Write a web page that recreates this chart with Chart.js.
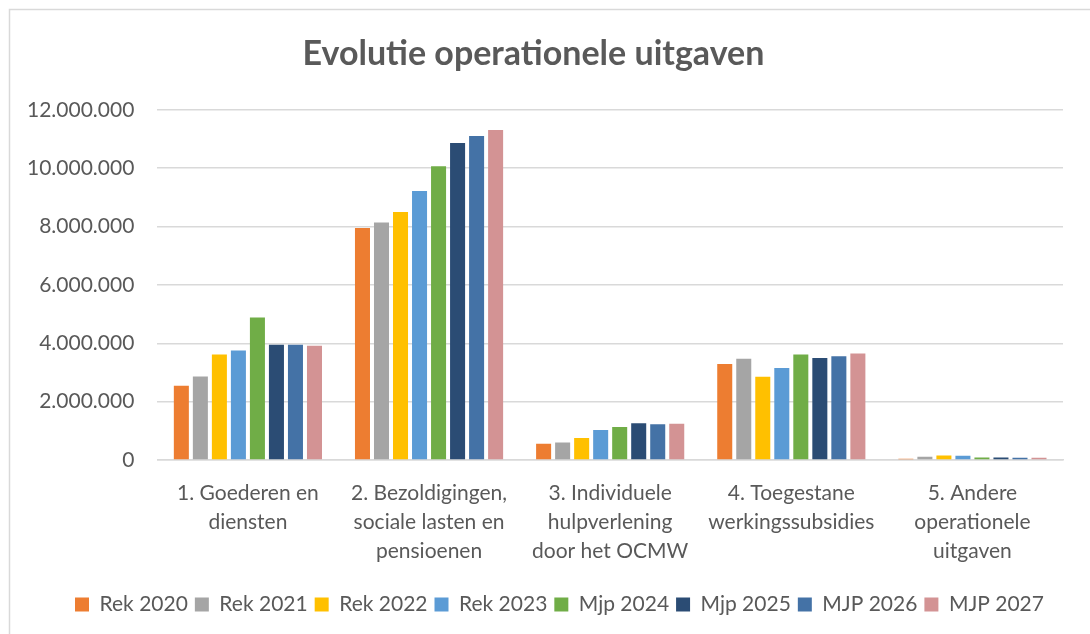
<!DOCTYPE html>
<html>
<head>
<meta charset="utf-8">
<script src="https://cdn.jsdelivr.net/npm/chart.js@4"></script>
<style>
  html, body { margin: 0; padding: 0; background: #fff; }
  #wrap { width: 1090px; height: 634px; position: relative; }
</style>
</head>
<body>
<div id="wrap"><canvas id="uitgaven"></canvas></div>
<script>
const categories = [
    ['1. Goederen en', 'diensten'],
    ['2. Bezoldigingen,', 'sociale lasten en', 'pensioenen'],
    ['3. Individuele', 'hulpverlening', 'door het OCMW'],
    ['4. Toegestane', 'werkingssubsidies'],
    ['5. Andere', 'operationele', 'uitgaven']
];

const seriesNames = ['Rek 2020', 'Rek 2021', 'Rek 2022', 'Rek 2023', 'Mjp 2024', 'Mjp 2025', 'MJP 2026', 'MJP 2027'];
const seriesColors = ['#ED7D31', '#A5A5A5', '#FFC000', '#5B9BD5', '#70AD47', '#2B4C74', '#4472A6', '#D39394'];

const rek2020 = [2550000, 7950000, 560000, 3290000, 45000];
const rek2021 = [2860000, 8140000, 600000, 3470000, 110000];
const rek2022 = [3620000, 8500000, 760000, 2850000, 160000];
const rek2023 = [3750000, 9220000, 1030000, 3150000, 150000];
const mjp2024 = [4880000, 10070000, 1130000, 3620000, 90000];
const mjp2025 = [3950000, 10860000, 1260000, 3500000, 90000];
const mjp2026 = [3950000, 11100000, 1230000, 3560000, 80000];
const mjp2027 = [3920000, 11310000, 1240000, 3650000, 80000];

const allSeries = [rek2020, rek2021, rek2022, rek2023, mjp2024, mjp2025, mjp2026, mjp2027];

const yTicks = [0, 2000000, 4000000, 6000000, 8000000, 10000000, 12000000];

function fmt(v) {
    return v.toString().replace(/\B(?=(\d{3})+(?!\d))/g, '.');
}

// light frame like the Excel chart border
const framePlugin = {
    id: 'frame',
    beforeDraw(chart) {
        const ctx = chart.ctx;
        ctx.save();
        ctx.strokeStyle = '#D9D9D9';
        ctx.lineWidth = 1.5;
        ctx.beginPath();
        ctx.moveTo(9.5, chart.height);
        ctx.lineTo(9.5, 9.5);
        ctx.lineTo(chart.width, 9.5);
        ctx.stroke();
        ctx.restore();
    }
};

// nudge the legend a bit right/down, like in the original
const legendShift = {
    id: 'legendShift',
    afterLayout(chart) {
        const lg = chart.legend;
        lg.left += 26; lg.right += 26;
        lg.top += 10; lg.bottom += 10;
    }
};

const textFont = "Lato, 'Open Sans', sans-serif";

new Chart(document.getElementById('uitgaven'), {
    type: 'bar',
    data: {
        labels: categories,
        datasets: allSeries.map((d, i) => ({
            label: seriesNames[i],
            data: d,
            backgroundColor: seriesColors[i],
            borderWidth: 0,
            barPercentage: 0.79,
            categoryPercentage: 0.84
        }))
    },
    options: {
        animation: false,
        responsive: true,
        maintainAspectRatio: false,
        layout: {
            padding: { left: 4, right: 27, top: 14, bottom: 19 }
        },
        plugins: {
            title: {
                display: true,
                text: 'Evolutie operationele uitgaven',
                color: '#595959',
                font: { family: textFont, size: 34, weight: 'bold' },
                padding: { top: 20, bottom: 35 }
            },
            legend: {
                position: 'bottom',
                labels: {
                    color: '#595959',
                    font: { family: textFont, size: 21 },
                    boxWidth: 14,
                    boxHeight: 14,
                    padding: 7
                }
            },
            tooltip: { enabled: false }
        },
        scales: {
            x: {
                grid: { display: false },
                border: { color: '#D9D9D9', width: 1.5 },
                ticks: {
                    color: '#595959',
                    font: { family: textFont, size: 21, lineHeight: 1.38 },
                    maxRotation: 0,
                    autoSkip: false,
                    padding: 11
                }
            },
            y: {
                min: 0,
                max: 12000000,
                afterBuildTicks(axis) {
                    axis.ticks = yTicks.map(v => ({ value: v }));
                },
                grid: { color: '#D9D9D9', lineWidth: 1.5, drawTicks: false },
                border: { display: false },
                ticks: {
                    color: '#595959',
                    font: { family: textFont, size: 21 },
                    padding: 23,
                    callback: v => fmt(v)
                }
            }
        }
    },
    plugins: [framePlugin, legendShift]
});
</script>
</body>
</html>
